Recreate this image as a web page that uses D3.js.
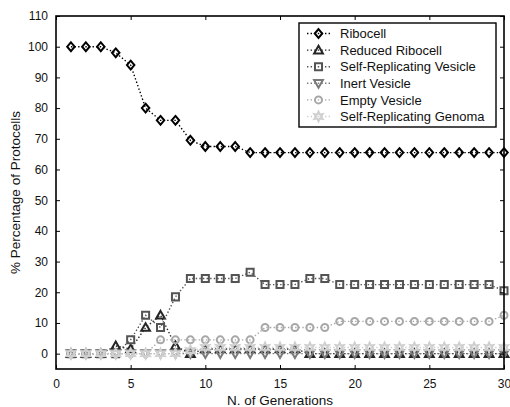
<!DOCTYPE html>
<html>
<head>
<meta charset="utf-8">
<script src="https://cdn.jsdelivr.net/npm/d3@7"></script>
<style>
  body { margin: 0; background: #fff; }
  text { font-family: Arial, "Liberation Sans", sans-serif; fill: #111; }
</style>
</head>
<body>
<div id="chart"></div>
<script>
// data
var generations = [1,2,3,4,5,6,7,8,9,10,11,12,13,14,15,16,17,18,19,20,21,22,23,24,25,26,27,28,29,30];
var ribocell = [100,100,100,98,94,80,76,76,69.5,67.5,67.5,67.5,65.5,65.5,65.5,65.5,65.5,65.5,65.5,65.5,65.5,65.5,65.5,65.5,65.5,65.5,65.5,65.5,65.5,65.5];
var reducedRibocell = [0,0,0,2.5,1.5,8.5,12.5,2.5,0,1.5,1.5,1.5,1.5,1.5,1.5,1.5,0,0,0,0,0,0,0,0,0,0,0,0,0,0];
var selfRepVesicle = [0,0,0,0,4.5,12.5,8.5,18.5,24.5,24.5,24.5,24.5,26.5,22.5,22.5,22.5,24.5,24.5,22.5,22.5,22.5,22.5,22.5,22.5,22.5,22.5,22.5,22.5,22.5,20.5];
var inertVesicle = [0,0,0,0,0,0,0,0,0,0,0,0,0,0,0,0,0,0,0,0,0,0,0,0,0,0,0,0,0,0];
var emptyVesicle = [0,0,0,0,0,0,4.5,4.5,4.5,4.5,4.5,4.5,4.5,8.5,8.5,8.5,8.5,8.5,10.5,10.5,10.5,10.5,10.5,10.5,10.5,10.5,10.5,10.5,10.5,12.5];
var selfRepGenoma = [0,0,0,0,0,0,0,0,1,2,2,2,2,2,2,2,2,2,2,2,2,2,2,2,2,2,2,2,2,2];

var seriesNames = ['Ribocell','Reduced Ribocell','Self-Replicating Vesicle','Inert Vesicle','Empty Vesicle','Self-Replicating Genoma'];
var seriesValues = [ribocell, reducedRibocell, selfRepVesicle, inertVesicle, emptyVesicle, selfRepGenoma];
var seriesColors = ['#000000','#262626','#545454','#7a7a7a','#a8a8a8','#d0d0d0'];
var seriesMarkers = ['diamond','triangleUp','square','triangleDown','circle','hexagram'];

var xTicks = [0,5,10,15,20,25,30];
var yTicks = [0,10,20,30,40,50,60,70,80,90,100,110];

var margin = { top: 16, left: 56, bottom: 38, right: 6 },
  width = 510 - margin.left - margin.right,
  height = 407 - margin.top - margin.bottom;

var svg = d3.select('#chart').append('svg')
  .attr('width', 510)
  .attr('height', 407)
  .append('g')
  .attr('transform', 'translate(' + margin.left + ',' + margin.top + ')');

var x = d3.scaleLinear().domain([0, 30]).range([0, width]);
var y = d3.scaleLinear().domain([-5, 110]).range([height, 0]);

// marker shapes, centred on 0,0
function markerPath(type, s) {
  if (type === 'diamond') {
    return 'M0,' + (-s) + 'L' + (s * 0.85) + ',0L0,' + s + 'L' + (-s * 0.85) + ',0Z';
  } else if (type === 'triangleUp') {
    return 'M0,' + (-s) + 'L' + s + ',' + (s * 0.75) + 'L' + (-s) + ',' + (s * 0.75) + 'Z';
  } else if (type === 'triangleDown') {
    return 'M0,' + s + 'L' + s + ',' + (-s * 0.75) + 'L' + (-s) + ',' + (-s * 0.75) + 'Z';
  } else if (type === 'square') {
    var h = s * 0.8;
    return 'M' + (-h) + ',' + (-h) + 'H' + h + 'V' + h + 'H' + (-h) + 'Z';
  } else if (type === 'circle') {
    var r = s * 0.8;
    return 'M' + r + ',0A' + r + ',' + r + ' 0 1,1 ' + (-r) + ',0A' + r + ',' + r + ' 0 1,1 ' + r + ',0Z';
  } else {
    var pts = [];
    for (var k = 0; k < 12; k++) {
      var a = -Math.PI / 2 + k * Math.PI / 6;
      var rr = k % 2 === 0 ? s * 1.1 : s * 0.55;
      pts.push([rr * Math.cos(a), rr * Math.sin(a)]);
    }
    return 'M' + pts.map(p => p[0].toFixed(2) + ',' + p[1].toFixed(2)).join('L') + 'Z';
  }
}

var line = d3.line()
  .x((d, i) => x(generations[i]))
  .y(d => y(d));

// series, drawn in plotting order (later on top)
seriesValues.forEach(function (vals, s) {
  var g = svg.append('g').attr('class', 'series');
  g.append('path')
    .datum(vals)
    .attr('d', line)
    .attr('fill', 'none')
    .attr('stroke', seriesColors[s])
    .attr('stroke-width', 1.4)
    .attr('stroke-dasharray', '1.4,2.2');
  g.selectAll('.marker')
    .data(vals)
    .enter()
    .append('path')
    .attr('class', 'marker')
    .attr('transform', (d, i) => 'translate(' + x(generations[i]) + ',' + y(d) + ')')
    .attr('d', markerPath(seriesMarkers[s], 4.4))
    .attr('fill', 'none')
    .attr('stroke', seriesColors[s])
    .attr('stroke-width', 2);
});

// axes (box with inward ticks)
var xAxis = d3.axisBottom(x).tickValues(xTicks).tickSizeInner(-4).tickSizeOuter(0).tickPadding(10);
var yAxis = d3.axisLeft(y).tickValues(yTicks).tickSizeInner(-4).tickSizeOuter(0).tickPadding(8);

svg.append('g')
  .attr('class', 'axis')
  .attr('transform', 'translate(0,' + height + ')')
  .call(xAxis);

svg.append('g')
  .attr('class', 'axis')
  .call(yAxis);

svg.append('g')
  .attr('class', 'axis')
  .call(d3.axisTop(x).tickValues(xTicks).tickSizeInner(-4).tickSizeOuter(0).tickFormat(''));

svg.append('g')
  .attr('class', 'axis')
  .attr('transform', 'translate(' + width + ',0)')
  .call(d3.axisRight(y).tickValues(yTicks).tickSizeInner(-4).tickSizeOuter(0).tickFormat(''));

svg.selectAll('.axis .domain').remove();
svg.selectAll('.axis text').style('font-size', '12px').attr('fill', '#111');
svg.selectAll('.axis line').attr('stroke', '#000');

svg.append('rect')
  .attr('x', 0)
  .attr('y', 0)
  .attr('width', width)
  .attr('height', height)
  .attr('fill', 'none')
  .attr('stroke', '#000')
  .attr('stroke-width', 1.6);

svg.append('text')
  .attr('x', width / 2)
  .attr('y', height + 36)
  .attr('text-anchor', 'middle')
  .style('font-size', '13.5px')
  .text('N. of Generations');

svg.append('text')
  .attr('transform', 'rotate(-90)')
  .attr('x', -height / 2)
  .attr('y', -margin.left + 20)
  .attr('text-anchor', 'middle')
  .style('font-size', '13.5px')
  .text('% Percentage of Protocells');

// legend
var legend = svg.append('g')
  .attr('transform', 'translate(' + (299 - margin.left) + ',' + (23 - margin.top) + ')');

legend.append('rect')
  .attr('width', 197)
  .attr('height', 104)
  .attr('fill', '#fff')
  .attr('stroke', '#000')
  .attr('stroke-width', 1.4);

var rows = legend.selectAll('.row')
  .data(seriesNames)
  .enter()
  .append('g')
  .attr('class', 'row')
  .attr('transform', (d, i) => 'translate(0,' + (10.5 + i * 16.6) + ')');

rows.append('line')
  .attr('x1', 8)
  .attr('x2', 31)
  .attr('stroke', (d, i) => seriesColors[i])
  .attr('stroke-width', 1.4)
  .attr('stroke-dasharray', '1.4,2.2');

rows.append('path')
  .attr('transform', 'translate(19.5,0)')
  .attr('d', (d, i) => markerPath(seriesMarkers[i], 4.4))
  .attr('fill', 'none')
  .attr('stroke', (d, i) => seriesColors[i])
  .attr('stroke-width', 2);

rows.append('text')
  .attr('x', 41)
  .attr('dy', '0.36em')
  .style('font-size', '13px')
  .text(d => d);
</script>
</body>
</html>
